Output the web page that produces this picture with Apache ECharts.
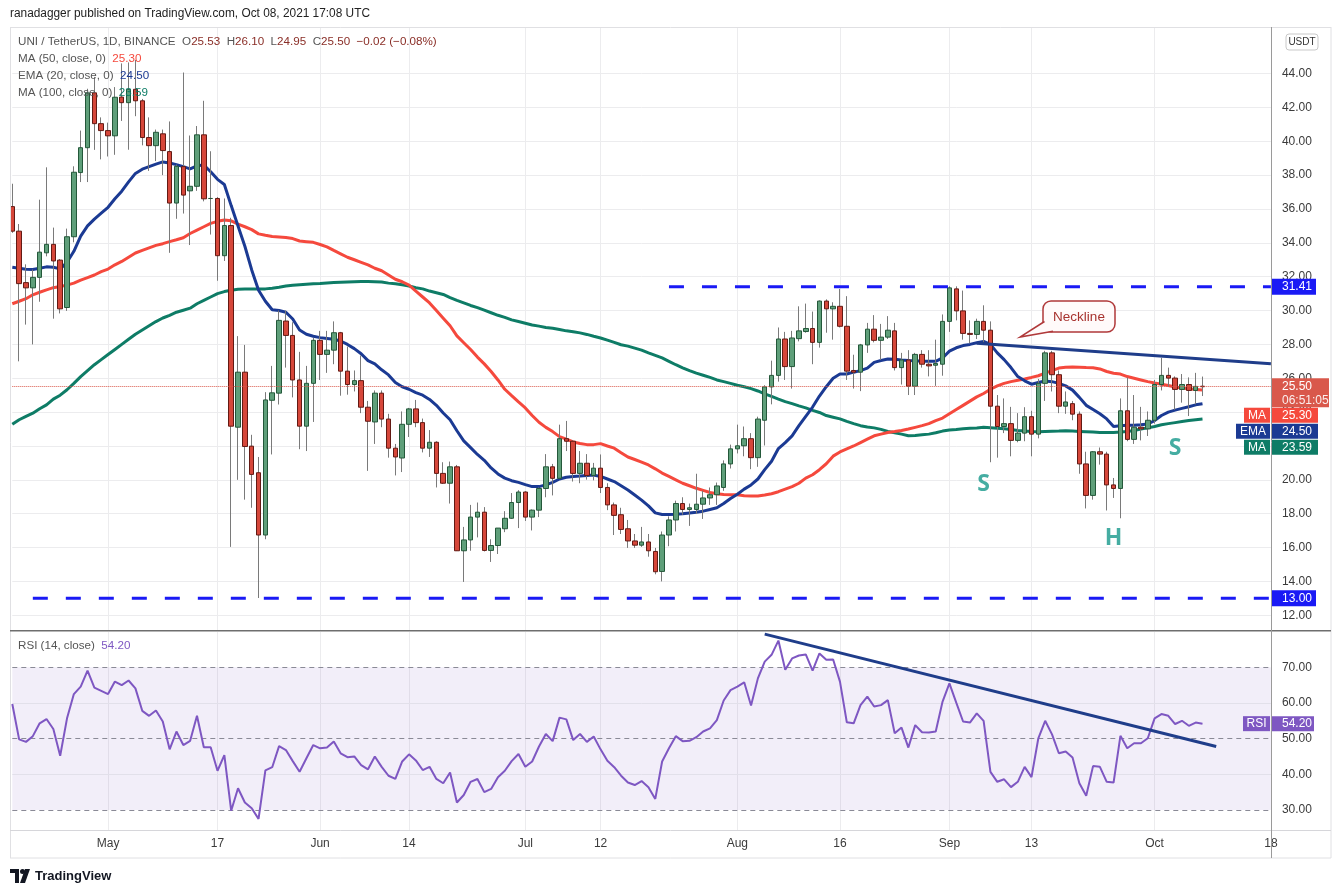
<!DOCTYPE html>
<html><head><meta charset="utf-8">
<script src="https://cdn.jsdelivr.net/npm/echarts@6/dist/echarts.min.js"></script>
<style>html,body{margin:0;padding:0;background:#fff;}#c{width:1343px;height:893px;}</style>
</head><body><div id="c"></div>
<script>
// ---------- DATA ----------
const firstDay = [2021, 3, 17];   // 17 Apr 2021
const dayCount = 185;             // through 18 Oct 2021 (axis extends past last candle)
const tickDates = ['2021-05-01','2021-05-17','2021-06-01','2021-06-14','2021-07-01','2021-07-12','2021-08-01','2021-08-16','2021-09-01','2021-09-13','2021-10-01','2021-10-18'];
const tickTexts = ['May','17','Jun','14','Jul','12','Aug','16','Sep','13','Oct','18'];

const opens = [36.14,34.69,31.65,31.34,31.96,33.41,33.91,32.98,30.18,34.36, 38.15,39.62,42.86,41.04,40.63,40.32,42.61,42.28,43.07,42.39, 40.22,39.74,40.44,39.39,36.35,38.5,37.07,37.34,40.38,36.62, 36.62,33.24,35.02,23.11,26.36,21.99,20.42,16.74,24.7,25.12, 29.38,28.53,25.9,23.17,25.7,28.24,27.41,27.66,28.69,26.42, 25.63,25.86,24.29,23.42,25.12,23.59,21.87,21.29,23.28,24.19, 23.38,21.87,22.22,20.38,19.8,20.77,15.81,16.45,17.8,18.09, 15.83,16.12,17.11,17.73,18.66,19.28,17.8,18.21,19.49,20.77, 20.09,22.43,22.28,20.38,20.98,20.26,20.69,19.55,18.52,17.94, 17.11,16.39,16.14,16.33,15.77,14.59,16.74,17.63,18.6,18.25, 18.25,18.56,18.93,19.12,19.55,20.94,21.83,22.01,22.43,21.31, 23.52,25.49,26.17,28.32,26.69,28.34,28.76,28.94,28.12,30.56, 30.1,30.25,29.07,26.46,26.36,27.97,28.9,28.24,28.43,28.8, 26.63,27.08,25.53,27.41,26.83,26.77,26.83,29.36,31.28,29.98, 28.65,28.59,29.36,28.84,24.35,23.15,23.32,22.33,22.76,23.73, 22.7,25.7,27.5,26.21,24.35,24.5,23.88,20.94,19.08,21.66, 21.52,19.7,19.49,24.08,22.39,23.11,23.01,23.52,25.63,26.17, 26.01,25.34,25.63,25.28,25.53];
const highs = [37.49,35.11,32.73,32.42,36.55,38.46,34.9,33.04,34.84,38.52, 40.63,43.1,43.8,41.41,41.1,43.2,44.6,44.66,44.8,42.5, 41.41,40.69,40.69,41.17,38.62,44.06,40.34,40.9,42.39,39.41, 36.7,36.62,35.48,28.49,27.97,22.66,21.35,25.18,26.73,30.0, 30.0,29.31,27.56,26.73,28.38,28.8,28.8,29.36,28.74,27.87, 26.46,27.35,24.66,25.28,25.28,23.9,22.12,24.04,24.25,24.72, 23.62,22.94,22.28,21.04,21.08,20.88,17.22,18.52,18.66,18.39, 16.49,17.15,18.15,19.22,19.39,19.33,18.25,19.55,21.52,20.94, 23.26,23.48,22.33,21.7,21.52,21.0,21.5,19.8,18.66,18.35, 17.63,16.8,17.22,16.8,15.98,16.95,17.84,18.77,18.97,18.6, 20.36,19.35,19.55,19.84,21.15,22.08,23.26,23.15,22.76,23.73, 25.59,27.04,29.0,28.74,28.8,30.25,30.41,29.94,30.6,30.66, 30.49,31.28,30.85,27.39,28.03,29.27,29.73,29.21,29.67,29.27, 27.5,27.66,27.5,27.66,27.66,28.28,29.77,31.43,31.43,31.18, 29.42,29.52,30.31,29.36,25.01,24.81,24.31,23.94,24.29,24.08, 25.96,27.62,27.62,26.46,25.22,24.66,24.04,21.66,21.7,21.91, 21.66,20.11,24.81,26.05,25.01,24.31,24.04,25.9,27.21,26.63, 26.11,26.25,26.05,26.32,26.10];
const lows = [34.59,27.0,29.17,28.0,30.52,33.2,29.52,29.83,29.98,34.03, 37.59,37.59,39.49,38.93,39.1,39.2,41.2,39.5,41.48,39.76, 38.25,38.83,38.0,33.41,35.42,35.73,33.87,37.07,36.45,34.49, 31.76,32.93,16.04,20.0,18.83,18.35,13.02,16.49,21.5,24.45, 26.63,24.87,21.81,21.7,23.42,25.9,26.32,26.83,24.97,25.03, 25.22,23.94,20.53,22.12,23.11,21.31,20.26,20.46,22.53,23.11, 21.62,21.35,19.55,19.76,18.6,15.8,13.97,15.81,16.6,15.77, 15.15,15.62,16.91,17.69,17.15,17.57,17.01,17.8,18.97,19.08, 20.07,21.7,19.9,19.8,20.01,19.97,19.22,18.21,16.74,16.8, 15.98,15.98,16.04,15.46,14.42,14.0,16.08,16.95,17.94,17.28, 17.98,17.69,18.52,18.52,19.35,20.67,21.56,21.39,20.63,20.77, 22.03,24.46,25.8,25.9,25.39,28.18,28.69,26.83,27.81,28.69, 28.28,29.0,25.9,25.39,25.24,27.5,28.12,27.08,28.32,26.46, 25.63,25.01,25.01,26.63,26.11,25.55,26.15,28.74,29.42,28.28, 28.07,28.32,28.12,21.04,21.31,22.76,21.39,22.22,22.28,21.39, 22.45,24.66,25.22,23.94,23.9,23.52,20.36,18.31,18.83,20.9, 18.19,18.93,17.73,22.28,22.12,22.33,22.59,23.32,25.28,25.49, 24.14,24.56,23.77,24.46,24.95];
const closes = [34.69,31.59,31.34,31.96,33.45,33.91,32.93,30.1,34.36,38.17, 39.62,42.86,41.04,40.63,40.32,42.6,42.28,43.07,42.39,40.22, 39.74,40.53,39.45,36.35,38.52,36.82,37.34,40.38,36.6,36.62, 33.24,35.02,23.17,26.36,21.97,20.32,16.74,24.72,25.14,29.42, 28.53,25.9,23.17,25.7,28.24,27.41,27.66,28.69,26.42,25.63, 25.86,24.29,23.46,25.12,23.59,21.87,21.35,23.28,24.19,23.38, 21.87,22.22,20.38,19.8,20.77,15.81,16.45,17.8,18.09,15.83, 16.12,17.15,17.73,18.66,19.28,17.8,18.21,19.49,20.77,20.09, 22.43,22.28,20.38,20.98,20.26,20.69,19.55,18.52,17.9,17.07, 16.39,16.14,16.33,15.81,14.57,16.74,17.63,18.6,18.25,18.35, 18.56,18.93,19.12,19.64,20.94,21.83,22.01,22.43,21.31,23.59, 25.49,26.17,28.32,26.69,28.38,28.8,28.94,28.12,30.56,30.1, 30.25,29.07,26.42,26.36,27.97,28.9,28.24,28.43,28.84,26.63, 27.08,25.53,27.41,26.83,26.73,26.87,29.36,31.34,29.98,28.65, 28.59,29.36,28.84,24.35,23.15,23.32,22.33,22.76,23.73,22.7, 25.7,27.5,26.21,24.35,24.6,23.88,20.94,19.08,21.66,21.52, 19.7,19.49,24.08,22.39,23.11,23.01,23.52,25.63,26.17,26.01, 25.34,25.63,25.28,25.52,25.50];

const ema20 = [32.56,32.5,32.44,32.42,32.5,32.58,32.56,32.46,32.85,33.5, 34.4,35.0,35.4,35.75,36.1,36.6,37.05,37.6,38.1,38.35, 38.5,38.65,38.78,38.72,38.62,38.5,38.37,38.55,38.6,38.2, 37.75,37.45,36.2,35.0,33.8,32.4,31.2,30.55,30.05,30.0, 29.9,29.5,28.85,28.6,28.48,28.4,28.35,28.3,28.2,28.0, 27.75,27.45,27.04,26.85,26.5,26.2,25.75,25.5,25.35,25.15, 25.0,24.75,24.4,23.95,23.55,22.9,22.3,21.9,21.5,21.15, 20.7,20.35,20.1,19.95,19.85,19.72,19.6,19.6,19.7,19.85, 20.05,20.15,20.2,20.22,20.25,20.28,20.2,20.05,19.9,19.65, 19.4,19.1,18.8,18.46,18.05,17.95,17.95,17.97,18.0,18.04, 18.08,18.15,18.25,18.35,18.6,18.9,19.15,19.45,19.7,20.05, 20.6,21.1,21.85,22.2,22.6,23.2,23.75,24.3,24.95,25.5, 26.0,26.25,26.25,26.36,26.45,26.6,26.94,27.05,27.14,27.12, 27.08,27.05,27.03,27.0,27.0,27.0,27.2,27.6,27.8,27.93, 28.0,28.1,28.18,28.0,27.5,27.1,26.63,26.1,25.85,25.65, 25.75,25.84,25.8,25.7,25.55,25.3,24.87,24.4,24.15,23.9, 23.6,23.15,23.2,23.22,23.22,23.25,23.3,23.5,23.8,24.0, 24.12,24.22,24.32,24.43,24.50];
const ma50 = [30.4,30.55,30.7,30.93,31.08,31.22,31.35,31.42,31.5,31.62, 31.8,31.95,32.1,32.3,32.45,32.7,32.9,33.15,33.4,33.55, 33.7,33.85,33.95,34.07,34.18,34.3,34.55,34.75,34.95,35.15, 35.27,35.35,35.3,35.1,34.95,34.78,34.53,34.45,34.38,34.35, 34.32,34.25,34.11,34.07,34.03,33.9,33.76,33.55,33.35,33.15, 33.0,32.85,32.7,32.5,32.35,32.1,31.85,31.7,31.5,31.15, 30.8,30.45,30.0,29.55,29.1,28.5,28.1,27.7,27.25,26.85, 26.4,25.9,25.35,24.97,24.6,24.25,23.8,23.4,23.1,22.85, 22.55,22.4,22.24,22.15,22.08,22.08,22.14,22.0,21.87,21.6, 21.35,21.2,21.05,20.88,20.65,20.4,20.2,20.0,19.8,19.65, 19.5,19.38,19.25,19.18,19.14,19.12,19.12,19.06,19.04,19.04, 19.1,19.18,19.3,19.45,19.6,19.8,20.1,20.3,20.6,20.95, 21.4,21.65,21.83,22.0,22.2,22.4,22.6,22.7,22.8,22.85, 22.92,23.0,23.1,23.2,23.32,23.5,23.65,23.9,24.15,24.4, 24.65,24.9,25.1,25.35,25.55,25.7,25.8,25.88,25.96,26.05, 26.15,26.3,26.45,26.6,26.65,26.67,26.65,26.63,26.62,26.55, 26.4,26.3,26.25,26.1,26.0,25.9,25.8,25.72,25.65,25.57, 25.48,25.42,25.38,25.34,25.30];
const ma100 = [23.28,23.55,23.75,23.94,24.2,24.43,24.77,25.0,25.32,25.7, 26.1,26.45,26.8,27.1,27.4,27.7,28.0,28.3,28.6,28.85, 29.1,29.35,29.56,29.72,29.9,30.02,30.14,30.4,30.6,30.8, 31.0,31.12,31.2,31.26,31.27,31.27,31.27,31.28,31.32,31.38, 31.45,31.5,31.53,31.56,31.59,31.6,31.63,31.65,31.67,31.69, 31.7,31.71,31.71,31.7,31.68,31.62,31.58,31.52,31.45,31.35, 31.28,31.15,31.05,30.95,30.76,30.6,30.45,30.3,30.17,30.02, 29.87,29.72,29.6,29.45,29.35,29.25,29.15,29.08,29.0,28.95, 28.88,28.8,28.75,28.68,28.59,28.48,28.38,28.25,28.12,27.98, 27.9,27.78,27.66,27.5,27.35,27.2,27.0,26.8,26.62,26.45, 26.3,26.18,26.05,25.9,25.8,25.7,25.59,25.5,25.39,25.25, 25.08,24.93,24.77,24.62,24.5,24.37,24.25,24.1,23.98,23.8, 23.7,23.6,23.45,23.32,23.2,23.12,23.07,22.98,22.86,22.78, 22.7,22.6,22.62,22.66,22.7,22.78,22.88,22.95,22.98,23.02, 23.05,23.06,23.1,23.08,23.05,23.02,22.97,22.92,22.88,22.85, 22.84,22.86,22.87,22.88,22.9,22.88,22.86,22.84,22.82,22.8, 22.8,22.8,22.82,22.86,22.92,23.0,23.07,23.15,23.25,23.32, 23.38,23.44,23.5,23.55,23.59];
const rsi14 = [59.7,49.8,49.1,50.7,54.3,55.5,52.7,45.2,55.7,62.5, 64.6,69.1,64.3,63.4,62.5,66.0,65.0,66.3,64.1,57.8, 56.4,57.9,54.8,47.0,52.0,48.2,49.4,56.4,47.6,47.6, 41.0,45.4,29.8,36.1,32.1,30.5,27.5,41.1,42.0,47.9, 46.8,43.7,40.7,44.5,48.2,47.3,47.5,49.2,45.9,44.8, 45.0,42.6,41.4,45.0,42.1,39.6,38.7,43.6,45.6,43.9, 41.2,42.1,38.7,37.5,40.5,32.1,34.2,37.9,38.7,35.0, 35.9,39.2,41.0,43.7,45.7,42.1,43.6,47.8,51.3,49.3, 55.9,55.4,49.6,51.3,49.1,50.6,47.0,43.8,42.0,39.6, 37.7,37.0,38.1,36.4,33.1,43.6,47.3,50.7,49.3,49.4, 50.4,52.0,52.9,55.2,60.7,63.6,64.6,65.8,59.3,66.9, 71.6,73.5,77.5,69.3,72.5,73.3,73.6,69.1,73.9,72.1, 72.2,66.0,54.6,54.3,59.4,61.8,59.0,59.4,60.8,51.5, 53.1,47.5,53.8,51.8,51.7,52.0,60.4,65.5,60.1,54.8, 54.5,57.1,55.0,40.7,37.9,38.6,36.4,37.9,42.1,39.2, 50.1,55.0,51.2,45.9,46.4,44.7,37.5,34.0,42.3,42.1, 37.9,37.7,50.8,47.3,48.7,48.7,50.1,55.7,56.9,56.4, 54.1,55.0,53.6,54.5,54.2];

const priceTicks = [12,14,16,18,20,22,24,26,28,30,32,34,36,38,40,42,44];
const rsiTicks = [30,40,50,60,70];
const resistance = 31.41, resistanceStart = 96;
const support = 13.00, supportStart = 3;
const neckline = [[141, 28.07], [184, 26.86]];
const rsiTrend = [[110, 79.3], [176, 47.8]];
const patternLabels = [[142, 19.75, 'S'], [161, 16.56, 'H'], [170, 21.85, 'S']];
const lastValues = {open: 25.53, high: 26.10, low: 24.95, close: 25.50, change: '\u22120.02 (\u22120.08%)', ma50: 25.30, ema20: 24.50, ma100: 23.59, rsi: 54.20, countdown: '06:51:05'};

// ---------- STYLE ----------
const FONT = '"Liberation Sans", Arial, sans-serif';
const C = {up:'#5f9f7a', upB:'#24583a', down:'#d6473a', downB:'#631a14', wick:'#7a7a7a',
  ma50:'#f5493d', ema:'#1b3a93', ma100:'#0e7c66', rsi:'#7e57c2', blue:'#1a1af5', neck:'#1f3d8a',
  last:'#d9584b', grid:'#ececee', label:'#3b3b3b', legend:'#555555', ohlc:'#8a2e27', pattern:'#16998b'};

const dates = Array.from({length: dayCount}, (_, i) => new Date(Date.UTC(firstDay[0], firstDay[1], firstDay[2] + i)).toISOString().slice(0, 10));
const tickIdx = new Set(tickDates.map(d => dates.indexOf(d)));
const tickText = {}; tickDates.forEach((d, k) => tickText[d] = tickTexts[k]);
const lastIdx = dayCount - 1;

const wickData = opens.map((o, i) => [o, closes[i], lows[i], highs[i]]);
const bodyData = opens.map((o, i) => [o, closes[i], Math.min(o, closes[i]), Math.max(o, closes[i])]);

const chart = echarts.init(document.getElementById('c'), null, {renderer: 'canvas'});
const xSplit = {show: true, interval: (i) => tickIdx.has(i), lineStyle: {color: C.grid, width: 1}};
const axisLbl = {show: true, position: 'end', distance: 11, formatter: (p) => Number(p.value).toFixed(2), color: C.label, fontSize: 12, fontFamily: FONT};

const option = {
  animation: false,
  backgroundColor: '#ffffff',
  grid: [
    {left: 12.3, right: 72.1, top: 28, height: 602},
    {left: 12.3, right: 72.1, top: 632, height: 198}
  ],
  xAxis: [
    {type: 'category', gridIndex: 0, data: dates, boundaryGap: false, axisLine: {show: false}, axisTick: {show: false}, axisLabel: {show: false}, splitLine: xSplit},
    {type: 'category', gridIndex: 1, data: dates, boundaryGap: false, axisLine: {show: false}, axisTick: {show: false},
     axisLabel: {show: true, interval: (i) => tickIdx.has(i), formatter: (v) => tickText[v] || '', color: C.label, fontSize: 12, fontFamily: FONT, margin: 8}, splitLine: xSplit}
  ],
  yAxis: [
    {type: 'value', gridIndex: 0, min: 11.13, max: 46.69, position: 'right', axisLine: {show: false}, axisTick: {show: false}, axisLabel: {show: false}, splitLine: {show: false}},
    {type: 'value', gridIndex: 1, min: 24.39, max: 79.9, position: 'right', axisLine: {show: false}, axisTick: {show: false}, axisLabel: {show: false}, splitLine: {show: false}}
  ],
  series: [
    {name: 'MA100', type: 'line', xAxisIndex: 0, yAxisIndex: 0, data: ma100, symbol: 'none', silent: true, z: 2,
     lineStyle: {color: C.ma100, width: 3},
     markLine: {silent: true, z: 0, symbol: ['none', 'none'], animation: false, lineStyle: {color: C.grid, width: 1, type: 'solid'}, label: axisLbl,
       emphasis: {disabled: true}, data: priceTicks.map(v => ({yAxis: v}))}},
    {name: 'MA50', type: 'line', xAxisIndex: 0, yAxisIndex: 0, data: ma50, symbol: 'none', silent: true, z: 2, lineStyle: {color: C.ma50, width: 3}},
    {name: 'EMA20', type: 'line', xAxisIndex: 0, yAxisIndex: 0, data: ema20, symbol: 'none', silent: true, z: 2, lineStyle: {color: C.ema, width: 3}},
    {name: 'wick', type: 'candlestick', xAxisIndex: 0, yAxisIndex: 0, data: wickData, barWidth: 1, clip: false, silent: true, z: 3,
     itemStyle: {color: C.wick, color0: C.wick, borderColor: C.wick, borderColor0: C.wick, borderColorDoji: C.wick, borderWidth: 1}},
    {name: 'UNI', type: 'candlestick', xAxisIndex: 0, yAxisIndex: 0, data: bodyData, barWidth: 5, clip: false, silent: true, z: 4,
     itemStyle: {color: C.up, color0: C.down, borderColor: C.upB, borderColor0: C.downB, borderColorDoji: C.upB, borderWidth: 1},
     markLine: {silent: true, z: 5, symbol: ['none', 'none'], lineStyle: {color: C.last, type: 'dotted', width: 1}, label: {show: false}, data: [{yAxis: lastValues.close}]}},
    {name: 'resistance', type: 'line', xAxisIndex: 0, yAxisIndex: 0, data: [[resistanceStart, resistance], [lastIdx, resistance]], symbol: 'none', silent: true, z: 6,
     lineStyle: {color: C.blue, width: 3, type: [15, 18]}},
    {name: 'support', type: 'line', xAxisIndex: 0, yAxisIndex: 0, data: [[supportStart, support], [lastIdx, support]], symbol: 'none', silent: true, z: 6,
     lineStyle: {color: C.blue, width: 3, type: [15, 18]}},
    {name: 'neckline', type: 'line', xAxisIndex: 0, yAxisIndex: 0, data: neckline, symbol: 'none', silent: true, z: 6, lineStyle: {color: C.neck, width: 3}},
    {name: 'pattern', type: 'scatter', xAxisIndex: 0, yAxisIndex: 0, data: patternLabels, symbolSize: 0, silent: true, z: 7,
     label: {show: true, position: 'inside', formatter: (p) => p.value[2], color: C.pattern, fontSize: 23, fontWeight: 'bold', fontFamily: '"Open Sans", Arial, sans-serif'}},
    {name: 'RSI', type: 'line', xAxisIndex: 1, yAxisIndex: 1, data: rsi14, symbol: 'none', silent: true, z: 3,
     lineStyle: {color: C.rsi, width: 2},
     markArea: {silent: true, z: 1, itemStyle: {color: 'rgba(126,87,194,0.1)'}, data: [[{yAxis: 30}, {yAxis: 70}]]},
     markLine: {silent: true, z: 1, symbol: ['none', 'none'], label: axisLbl, emphasis: {disabled: true},
       data: rsiTicks.map(v => ({yAxis: v, lineStyle: (v % 20 === 10) ? {color: '#8a8a96', type: [5, 4], width: 1} : {color: '#e2e0ea', type: 'solid', width: 1}}))}},
    {name: 'rsiTrend', type: 'line', xAxisIndex: 1, yAxisIndex: 1, data: rsiTrend, symbol: 'none', silent: true, z: 5, lineStyle: {color: C.neck, width: 3}}
  ]
};
chart.setOption(option);

// ---------- ANNOTATIONS / TAGS ----------
const mctx = document.createElement('canvas').getContext('2d');
function tw(str, size, weight) { mctx.font = (weight || 'normal') + ' ' + size + 'px ' + FONT; return mctx.measureText(str).width; }
const gy = (v) => chart.convertToPixel({yAxisIndex: 0}, v);
const ry = (v) => chart.convertToPixel({yAxisIndex: 1}, v);
const AX = 1272;
const els = [];
function rect(x, y, w, h, fill, z, extra) { els.push(Object.assign({type: 'rect', z: z || 50, silent: true, shape: {x: x, y: y, width: w, height: h}, style: {fill: fill}}, extra || {})); }
function text(x, y, t, fill, size, align, weight, z) {
  const s = size || 12, a = align || 'left';
  els.push({type: 'text', z: z || 51, silent: true, x: x, y: y,
    style: {text: t, fill: fill || '#fff', font: (weight || 'normal') + ' ' + s + 'px ' + FONT, textAlign: a, align: a, textVerticalAlign: 'middle', verticalAlign: 'middle'}});
}
function line(x1, y1, x2, y2, stroke, w, z) { els.push({type: 'line', z: z || 60, silent: true, shape: {x1: x1, y1: y1, x2: x2, y2: y2}, style: {stroke: stroke, lineWidth: w || 1}}); }

// header
const header = 'ranadagger published on TradingView.com, Oct 08, 2021 17:08 UTC';
const headerSize = 12 * 360 / tw(header, 12);
text(10, 14, header, '#222', headerSize.toFixed(2));

// legend rows
const row1 = [['UNI / TetherUS, 1D, BINANCE  ', C.legend], ['O', C.legend], [lastValues.open.toFixed(2) + '  ', C.ohlc], ['H', C.legend], [lastValues.high.toFixed(2) + '  ', C.ohlc],
  ['L', C.legend], [lastValues.low.toFixed(2) + '  ', C.ohlc], ['C', C.legend], [lastValues.close.toFixed(2) + '  ', C.ohlc], [lastValues.change, C.ohlc]];
const row1Str = row1.map(p => p[0]).join('');
const legSize = Math.min(13.5, 12 * 419 / tw(row1Str, 12));
function legend(pieces, x, y) { let cx = x; pieces.forEach(p => { text(cx, y, p[0], p[1], legSize.toFixed(2)); cx += tw(p[0], legSize); }); }
legend(row1, 18, 42);
legend([['MA (50, close, 0)  ', C.legend], [lastValues.ma50.toFixed(2), C.ma50]], 18, 59);
legend([['EMA (20, close, 0)  ', C.legend], [lastValues.ema20.toFixed(2), C.ema]], 18, 76);
legend([['MA (100, close, 0)  ', C.legend], [lastValues.ma100.toFixed(2), C.ma100]], 18, 92.5);
legend([['RSI (14, close)  ', C.legend], [lastValues.rsi.toFixed(2), C.rsi]], 18, 645.5);

// level tags
[[resistance], [support]].forEach(([v]) => { const y = gy(v); rect(AX, y - 8, 44, 16, C.blue); text(AX + 10, y, v.toFixed(2)); });
const yl = gy(lastValues.close);
rect(AX, yl - 8.5, 57, 29, C.last);
text(AX + 10, yl, lastValues.close.toFixed(2));
text(AX + 10, yl + 14, lastValues.countdown, 'rgba(255,255,255,0.9)');
const maTags = [['MA', lastValues.ma50, C.ma50], ['EMA', lastValues.ema20, C.ema], ['MA', lastValues.ma100, C.ma100]];
maTags.forEach(([name, v, col], k) => {
  const top = yl + 21 + k * 16, w = tw(name, 12) + 8;
  rect(AX - 2 - w, top, w, 15, col); text(AX - 2 - w / 2, top + 7.5, name, '#fff', 12, 'center');
  rect(AX, top, 46, 15, col); text(AX + 10, top + 7.5, v.toFixed(2));
});
const yr = ry(lastValues.rsi);
{ const w = tw('RSI', 12) + 7; rect(AX - 2 - w, yr - 7.5, w, 15, C.rsi); text(AX - 2 - w / 2, yr, 'RSI', '#fff', 12, 'center'); rect(AX, yr - 7.5, 42, 15, C.rsi); text(AX + 10, yr, lastValues.rsi.toFixed(2)); }

// Neckline callout
els.push({type: 'rect', z: 55, silent: true, shape: {x: 1043, y: 301, width: 72, height: 31, r: 8}, style: {fill: '#fffafa', stroke: '#b0393a', lineWidth: 1.5}});
els.push({type: 'polygon', z: 56, silent: true, shape: {points: [[1045, 321], [1020, 337], [1053, 331]]}, style: {fill: '#fffafa'}});
els.push({type: 'polyline', z: 57, silent: true, shape: {points: [[1044.5, 321.5], [1020, 337], [1053, 331.2]]}, style: {stroke: '#b0393a', lineWidth: 1.5, fill: null}});
text(1079, 317, 'Neckline', '#a8332f', 13.5, 'center', 'normal', 58);

// USDT box
els.push({type: 'rect', z: 50, silent: true, shape: {x: 1286, y: 34, width: 32, height: 16, r: 3}, style: {fill: '#fff', stroke: '#c9c9c9', lineWidth: 1}});
text(1302, 42, 'USDT', '#333', 10, 'center');

// frame
line(10, 27.5, 1331, 27.5, '#e0e0e3', 1);
line(10.5, 27, 10.5, 858, '#e0e0e3', 1);
line(1331, 27, 1331, 858, '#e0e0e3', 1);
line(10, 858, 1331, 858, '#e0e0e3', 1);
line(10, 830.5, 1331, 830.5, '#d6d6da', 1);
line(10, 630.8, 1331, 630.8, '#6e6e6e', 1.5);
line(1271.5, 27, 1271.5, 858, '#9a9a9a', 1);

// TradingView mark
els.push({type: 'polygon', z: 60, silent: true, shape: {points: [[10, 869], [19, 869], [19, 883], [15, 883], [15, 873], [10, 873]]}, style: {fill: '#131722'}});
els.push({type: 'circle', z: 60, silent: true, shape: {cx: 22.5, cy: 871.5, r: 2.5}, style: {fill: '#131722'}});
els.push({type: 'polygon', z: 60, silent: true, shape: {points: [[25, 869], [30, 869], [25, 883], [20, 883]]}, style: {fill: '#131722'}});
text(35, 876, 'TradingView', '#131722', 13, 'left', '600');

chart.setOption({graphic: {elements: els}});
</script>
</body></html>
